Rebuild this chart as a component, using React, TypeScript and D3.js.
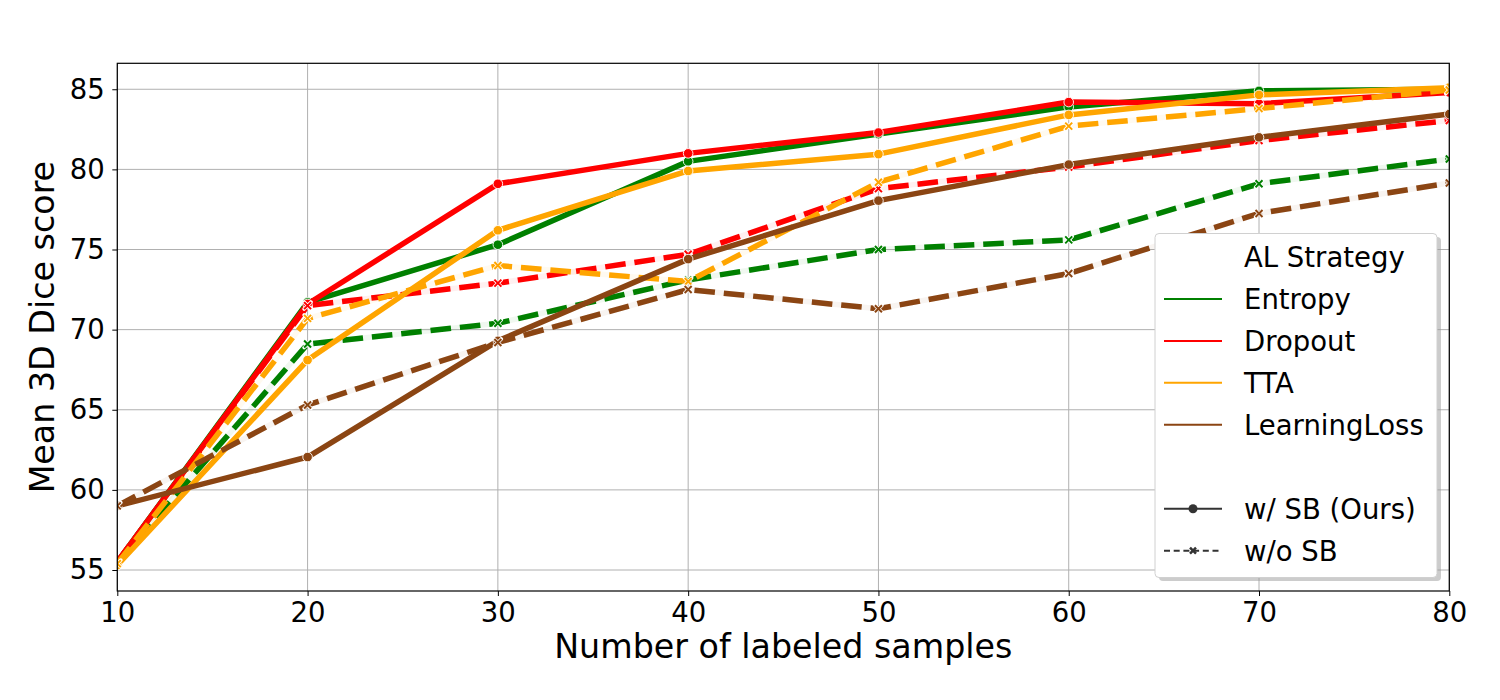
import React, { useEffect, useRef } from 'react';
import * as d3 from 'd3';

const samples = [10, 20, 30, 40, 50, 60, 70, 80];
const strategies = ['Entropy', 'Dropout', 'TTA', 'LearningLoss'];
const colors = ['#008000', '#ff0000', '#ffa500', '#8b4513'];

const entropySB = [55.5, 71.7, 75.3, 80.5, 82.2, 83.9, 84.9, 85.0];
const entropyNoSB = [55.5, 69.1, 70.4, 73.1, 75.0, 75.6, 79.1, 80.65];
const dropoutSB = [55.5, 71.6, 79.1, 81.0, 82.3, 84.2, 84.1, 84.8];
const dropoutNoSB = [55.5, 71.5, 72.9, 74.7, 78.8, 80.15, 81.8, 83.05];
const ttaSB = [55.3, 68.1, 76.2, 79.9, 80.95, 83.4, 84.65, 85.1];
const ttaNoSB = [55.4, 70.7, 74.0, 73.0, 79.2, 82.7, 83.8, 84.95];
const llSB = [59.0, 62.05, 69.3, 74.4, 78.05, 80.3, 82.0, 83.45];
const llNoSB = [59.0, 65.3, 69.2, 72.5, 71.3, 73.5, 77.25, 79.15];

const xTicks = [10, 20, 30, 40, 50, 60, 70, 80];
const yTicks = [55, 60, 65, 70, 75, 80, 85];

const withSB = [entropySB, dropoutSB, ttaSB, llSB];
const withoutSB = [entropyNoSB, dropoutNoSB, ttaNoSB, llNoSB];

const App = () => {
  const ref = useRef<SVGSVGElement>(null);
  const width = 1500;
  const height = 700;

  useEffect(() => {
    const margin = { top: 63.3, right: 50.7, bottom: 109, left: 117.3 };
    const innerWidth = width - margin.left - margin.right;
    const innerHeight = height - margin.top - margin.bottom;
    const font = 'DejaVu Sans, sans-serif';

    const svg = d3.select(ref.current);
    svg.selectAll('*').remove();

    const g = svg.append('g').attr('transform', `translate(${margin.left},${margin.top})`);

    const x = d3.scaleLinear().domain([10, 80]).range([0, innerWidth]);
    const y = d3.scaleLinear().domain([53.69, 86.62]).range([innerHeight, 0]);

    svg.append('defs').append('clipPath').attr('id', 'plot-clip')
      .append('rect').attr('width', innerWidth).attr('height', innerHeight);

    // grid
    g.append('g').selectAll('line').data(xTicks).enter().append('line')
      .attr('x1', d => x(d)).attr('x2', d => x(d))
      .attr('y1', 0).attr('y2', innerHeight)
      .attr('stroke', '#b0b0b0').attr('stroke-width', 1);
    g.append('g').selectAll('line').data(yTicks).enter().append('line')
      .attr('y1', d => y(d)).attr('y2', d => y(d))
      .attr('x1', 0).attr('x2', innerWidth)
      .attr('stroke', '#b0b0b0').attr('stroke-width', 1);

    // lines
    const plot = g.append('g').attr('clip-path', 'url(#plot-clip)');
    const line = d3.line<number>().x((_, i) => x(samples[i])).y(d => y(d));

    strategies.forEach((s, k) => {
      const c = colors[k];
      // w/ SB (solid, circles)
      plot.append('path').datum(withSB[k])
        .attr('d', line).attr('fill', 'none')
        .attr('stroke', c).attr('stroke-width', 5.5)
        .attr('stroke-linejoin', 'round');
      plot.selectAll(`circle.m${k}`).data(withSB[k]).enter().append('circle')
        .attr('class', `m${k}`)
        .attr('cx', (_, i) => x(samples[i])).attr('cy', d => y(d))
        .attr('r', 4.8).attr('fill', c)
        .attr('stroke', '#fff').attr('stroke-width', 0.9);
      // w/o SB (dashed, x markers)
      plot.append('path').datum(withoutSB[k])
        .attr('d', line).attr('fill', 'none')
        .attr('stroke', c).attr('stroke-opacity', 0.06).attr('stroke-width', 5.5);
      plot.append('path').datum(withoutSB[k])
        .attr('d', line).attr('fill', 'none')
        .attr('stroke', c).attr('stroke-width', 5.5)
        .attr('stroke-dasharray', '20.6,8.9');
      const xm = plot.selectAll(`g.x${k}`).data(withoutSB[k]).enter().append('g')
        .attr('class', `x${k}`)
        .attr('transform', (d, i) => `translate(${x(samples[i])},${y(d)})`);
      xm.append('path').attr('d', 'M-3.5,-3.5L3.5,3.5M-3.5,3.5L3.5,-3.5')
        .attr('stroke', '#fff').attr('stroke-width', 3.6).attr('stroke-linecap', 'round');
      xm.append('path').attr('d', 'M-3.5,-3.5L3.5,3.5M-3.5,3.5L3.5,-3.5')
        .attr('stroke', c).attr('stroke-width', 2);
    });

    // axes
    const xAxis = g.append('g').attr('transform', `translate(0,${innerHeight})`)
      .call(d3.axisBottom(x).tickValues(xTicks).tickSize(5).tickPadding(6.5).tickFormat(d3.format('d')));
    const yAxis = g.append('g')
      .call(d3.axisLeft(y).tickValues(yTicks).tickSize(5).tickPadding(7.5).tickFormat(d3.format('d')));
    [xAxis, yAxis].forEach(a => {
      a.select('.domain').remove();
      a.selectAll('line').attr('stroke', '#000').attr('stroke-width', 1);
      a.selectAll('text').attr('font-family', font).attr('font-size', 27.5).attr('fill', '#000');
    });

    g.append('rect').attr('width', innerWidth).attr('height', innerHeight)
      .attr('fill', 'none').attr('stroke', '#000').attr('stroke-width', 1.2);

    svg.append('text')
      .attr('x', margin.left + innerWidth / 2).attr('y', 658)
      .attr('text-anchor', 'middle')
      .attr('font-family', font).attr('font-size', 33.3)
      .text('Number of labeled samples');

    svg.append('text')
      .attr('transform', `translate(54,${margin.top + innerHeight / 2}) rotate(-90)`)
      .attr('text-anchor', 'middle')
      .attr('font-family', font).attr('font-size', 33.3)
      .text('Mean 3D Dice score');

    // legend
    const lg = svg.append('g');
    lg.append('rect').attr('x', 1159).attr('y', 237).attr('width', 282).attr('height', 344)
      .attr('rx', 4).attr('fill', '#999').attr('opacity', 0.5);
    lg.append('rect').attr('x', 1155).attr('y', 233.5).attr('width', 282).attr('height', 344)
      .attr('rx', 4).attr('fill', '#fff').attr('stroke', '#d0d0d0').attr('stroke-width', 1);

    const rowY = (i: number) => 257 + i * 41.95;
    const textX = 1244;
    const addText = (i: number, t: string) =>
      lg.append('text').attr('x', textX).attr('y', rowY(i)).attr('dy', '0.36em')
        .attr('font-family', font).attr('font-size', 27.5).attr('fill', '#000').text(t);

    addText(0, 'AL Strategy');
    strategies.forEach((s, k) => {
      lg.append('line').attr('x1', 1164).attr('x2', 1222)
        .attr('y1', rowY(k + 1)).attr('y2', rowY(k + 1))
        .attr('stroke', colors[k]).attr('stroke-width', 2);
      addText(k + 1, s);
    });

    const styleRows = [
      { label: 'w/ SB (Ours)', dash: null as string | null },
      { label: 'w/o SB', dash: '6,3.7' },
    ];
    styleRows.forEach((r, j) => {
      const yy = rowY(6 + j);
      lg.append('line').attr('x1', 1164).attr('x2', 1222).attr('y1', yy).attr('y2', yy)
        .attr('stroke', '#333').attr('stroke-width', 2)
        .attr('stroke-dasharray', r.dash);
      if (j === 0) {
        lg.append('circle').attr('cx', 1193).attr('cy', yy).attr('r', 4.5).attr('fill', '#333');
      } else {
        lg.append('path').attr('d', `M1190,${yy - 3}L1196,${yy + 3}M1190,${yy + 3}L1196,${yy - 3}`)
          .attr('stroke', '#333').attr('stroke-width', 2.5);
      }
      addText(6 + j, r.label);
    });
  }, []);

  return (
    <svg ref={ref} width={width} height={height} viewBox={`0 0 ${width} ${height}`}
      style={{ position: 'absolute', left: 0, top: 0, background: '#fff' }} />
  );
};

export default App;
